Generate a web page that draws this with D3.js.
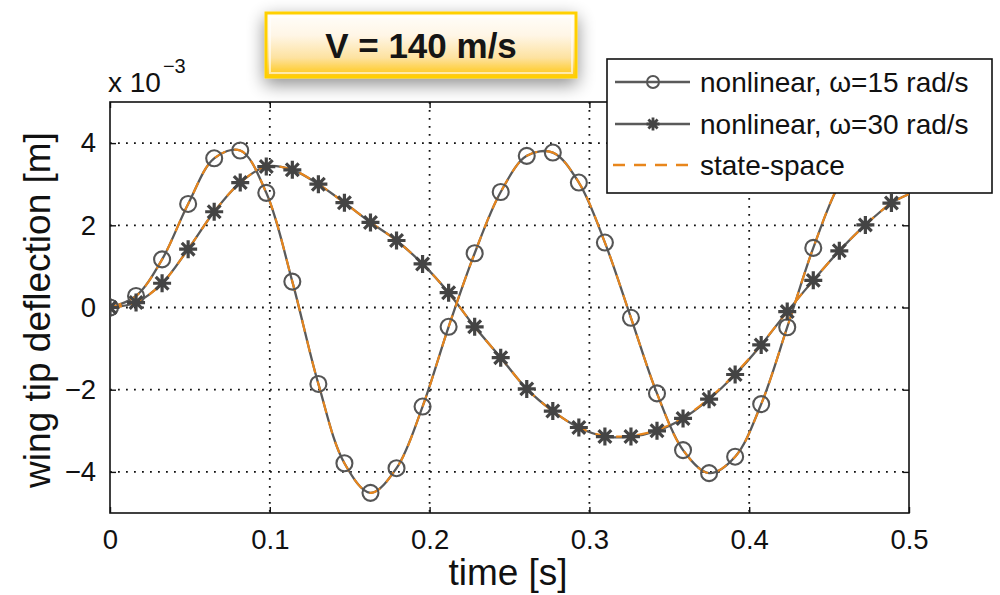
<!DOCTYPE html>
<html>
<head>
<meta charset="utf-8">
<script src="https://cdn.jsdelivr.net/npm/d3@7"></script>
<style>
  html, body { margin: 0; padding: 0; background: #fff; }
  svg { display: block; font-family: "Liberation Sans", Arial, Helvetica, sans-serif; }
</style>
</head>
<body>
<svg id="chart" width="1000" height="595"></svg>
<script>
// Sample times [s] shared by all series (last entry is the end of the run, no marker)
const timeS = [0, 0.0163, 0.0326, 0.0489, 0.0652, 0.0815, 0.0978, 0.1141, 0.1304, 0.1467,
  0.1630, 0.1793, 0.1956, 0.2119, 0.2282, 0.2445, 0.2608, 0.2771, 0.2934, 0.3097,
  0.3260, 0.3423, 0.3586, 0.3749, 0.3912, 0.4075, 0.4238, 0.4401, 0.4564, 0.4727,
  0.4890, 0.5000];

// Wing tip deflection, in units of 1e-3 m
const nonlinear15 = [0, 0.28, 1.17, 2.52, 3.63, 3.82, 2.79, 0.63, -1.86, -3.79,
  -4.51, -3.91, -2.41, -0.47, 1.32, 2.81, 3.69, 3.77, 3.04, 1.58,
  -0.25, -2.09, -3.47, -4.03, -3.63, -2.35, -0.48, 1.45, 3.00, 3.85,
  3.70, 3.20];
const nonlinear30 = [0, 0.12, 0.59, 1.42, 2.33, 3.04, 3.43, 3.35, 3.00, 2.55,
  2.07, 1.63, 1.06, 0.36, -0.47, -1.22, -1.98, -2.52, -2.92, -3.14,
  -3.14, -3.00, -2.70, -2.23, -1.63, -0.91, -0.10, 0.66, 1.38, 2.01,
  2.54, 2.76];
const stateSpace15 = [0, 0.28, 1.17, 2.52, 3.63, 3.82, 2.79, 0.63, -1.86, -3.79,
  -4.51, -3.91, -2.41, -0.47, 1.32, 2.81, 3.69, 3.77, 3.04, 1.58,
  -0.25, -2.09, -3.47, -4.03, -3.63, -2.35, -0.48, 1.45, 3.00, 3.85,
  3.70, 3.20];
const stateSpace30 = [0, 0.12, 0.59, 1.42, 2.33, 3.04, 3.43, 3.35, 3.00, 2.55,
  2.07, 1.63, 1.06, 0.36, -0.47, -1.22, -1.98, -2.52, -2.92, -3.12,
  -3.12, -2.98, -2.68, -2.21, -1.61, -0.90, -0.10, 0.66, 1.38, 2.01,
  2.54, 2.76];

const xTicks = [0, 0.1, 0.2, 0.3, 0.4, 0.5];
const xTickLabels = ["0", "0.1", "0.2", "0.3", "0.4", "0.5"];
const yTicks = [-4, -2, 0, 2, 4];
const yTickLabels = ["\u22124", "\u22122", "0", "2", "4"];
const legendLabels = ["nonlinear, \u03c9=15 rad/s", "nonlinear, \u03c9=30 rad/s", "state-space"];
const titleText = "V = 140 m/s";

const svg = d3.select("#chart");
const plot = { left: 110, right: 909, top: 102, bottom: 513 };

const x = d3.scaleLinear().domain([0, 0.5]).range([plot.left, plot.right]);
const y = d3.scaleLinear().domain([-5, 5]).range([plot.bottom, plot.top]);

const lineGray = "#5a5a5a";
const markGray = "#555";
const starGray = "#444";
const orange = "#e8861c";
const dash = "12,9";

const defs = svg.append("defs");
defs.append("clipPath").attr("id", "plotClip")
  .append("rect")
  .attr("x", plot.left).attr("y", plot.top)
  .attr("width", plot.right - plot.left).attr("height", plot.bottom - plot.top);

// Dotted grid
const grid = svg.append("g").attr("stroke", "#111").attr("stroke-width", 1.8)
  .attr("stroke-dasharray", "1.8,6.2");
grid.selectAll("line.gx").data(xTicks.filter(d => d > 0 && d < 0.5)).join("line")
  .attr("x1", d => x(d)).attr("x2", d => x(d))
  .attr("y1", plot.top).attr("y2", plot.bottom);
grid.selectAll("line.gy").data(yTicks).join("line")
  .attr("x1", plot.left).attr("x2", plot.right)
  .attr("y1", d => y(d)).attr("y2", d => y(d));

// Axes with inward ticks on all four sides
const tickLen = 6;
const axisBottom = d3.axisBottom(x).tickValues(xTicks).tickSize(tickLen).tickFormat((d, i) => xTickLabels[i]).tickPadding(10);
const gxB = svg.append("g").attr("transform", `translate(0,${plot.bottom})`).call(axisBottom);
gxB.selectAll(".tick line").attr("y2", -tickLen);
const gxT = svg.append("g").attr("transform", `translate(0,${plot.top})`)
  .call(d3.axisTop(x).tickValues(xTicks).tickSize(tickLen).tickFormat(""));
gxT.selectAll(".tick line").attr("y2", tickLen);

const axisLeft = d3.axisLeft(y).tickValues(yTicks).tickSize(tickLen).tickFormat((d, i) => yTickLabels[i]).tickPadding(8);
const gyL = svg.append("g").attr("transform", `translate(${plot.left},0)`).call(axisLeft);
gyL.selectAll(".tick line").attr("x2", tickLen);
const gyR = svg.append("g").attr("transform", `translate(${plot.right},0)`)
  .call(d3.axisRight(y).tickValues(yTicks).tickSize(tickLen).tickFormat(""));
gyR.selectAll(".tick line").attr("x2", -tickLen);

[gxB, gxT, gyL, gyR].forEach(g => {
  g.select(".domain").remove();
  g.selectAll(".tick line").attr("stroke", "#111").attr("stroke-width", 1.4);
  g.selectAll(".tick text").attr("fill", "#111").attr("font-size", 27.5)
    .attr("font-family", '"Liberation Sans", Arial, sans-serif');
});
gxB.selectAll(".tick text").attr("dy", "0.71em");

// Box
svg.append("rect")
  .attr("x", plot.left).attr("y", plot.top)
  .attr("width", plot.right - plot.left).attr("height", plot.bottom - plot.top)
  .attr("fill", "none").attr("stroke", "#111").attr("stroke-width", 1.6);

// Curves
const series = timeS.map((t, i) => ({ t, a: nonlinear15[i], b: nonlinear30[i], c: stateSpace15[i], d: stateSpace30[i] }));
const curveG = svg.append("g").attr("clip-path", "url(#plotClip)");
const lineOf = key => d3.line().x(d => x(d.t)).y(d => y(d[key])).curve(d3.curveCatmullRom.alpha(0.5));

curveG.append("path").datum(series).attr("d", lineOf("a"))
  .attr("fill", "none").attr("stroke", lineGray).attr("stroke-width", 2.3);
curveG.append("path").datum(series).attr("d", lineOf("b"))
  .attr("fill", "none").attr("stroke", lineGray).attr("stroke-width", 2.3);
curveG.append("path").datum(series).attr("d", lineOf("c"))
  .attr("fill", "none").attr("stroke", orange).attr("stroke-width", 2.1).attr("stroke-dasharray", dash);
curveG.append("path").datum(series).attr("d", lineOf("d"))
  .attr("fill", "none").attr("stroke", orange).attr("stroke-width", 2.1).attr("stroke-dasharray", dash);

// Markers (every sample but the final end point)
const marked = series.slice(0, series.length - 1);
curveG.selectAll("circle.m15").data(marked).join("circle")
  .attr("cx", d => x(d.t)).attr("cy", d => y(d.a)).attr("r", 8)
  .attr("fill", "none").attr("stroke", markGray).attr("stroke-width", 2.1);

function starPath(cx, cy, r) {
  const k = r * Math.SQRT1_2;
  return `M${cx - r},${cy}L${cx + r},${cy}M${cx},${cy - r}L${cx},${cy + r}` +
    `M${cx - k},${cy - k}L${cx + k},${cy + k}M${cx - k},${cy + k}L${cx + k},${cy - k}`;
}
curveG.selectAll("path.m30").data(marked).join("path")
  .attr("d", d => starPath(x(d.t), y(d.b), 9))
  .attr("fill", "none").attr("stroke", starGray).attr("stroke-width", 3.2);

// Exponent label
const expo = svg.append("text").attr("x", 108).attr("y", 92)
  .attr("font-size", 28).attr("fill", "#111");
expo.append("tspan").text("x 10");
expo.append("tspan").attr("font-size", 20).attr("dy", -19).attr("dx", 2).text("\u22123");

// Axis titles
svg.append("text").attr("x", 508).attr("y", 585).attr("text-anchor", "middle")
  .attr("font-size", 37).attr("fill", "#111").text("time [s]");
svg.append("text").attr("transform", "translate(50,310) rotate(-90)").attr("text-anchor", "middle")
  .attr("font-size", 37).attr("fill", "#111").text("wing tip deflection [m]");

// Legend
const lg = svg.append("g");
lg.append("rect").attr("x", 607).attr("y", 59).attr("width", 385).attr("height", 134)
  .attr("fill", "#fff").attr("stroke", "#111").attr("stroke-width", 1.6);
const rowsY = [82, 124, 165];
legendLabels.forEach((lab, i) => {
  const yy = rowsY[i];
  const ln = lg.append("line").attr("x1", 615).attr("x2", 690).attr("y1", yy).attr("y2", yy);
  if (i < 2) ln.attr("stroke", lineGray).attr("stroke-width", 2.3);
  else ln.attr("x1", 613).attr("stroke", orange).attr("stroke-width", 2.4).attr("stroke-dasharray", dash);
  if (i === 0) lg.append("circle").attr("cx", 653).attr("cy", yy).attr("r", 6)
    .attr("fill", "none").attr("stroke", markGray).attr("stroke-width", 2);
  if (i === 1) lg.append("path").attr("d", starPath(653, yy, 6.5))
    .attr("fill", "none").attr("stroke", starGray).attr("stroke-width", 2.8);
  lg.append("text").attr("x", 700).attr("y", yy).attr("dy", "0.35em")
    .attr("font-size", 28).attr("fill", "#111").text(lab);
});

// Title badge
const grad = defs.append("linearGradient").attr("id", "badgeFill")
  .attr("x1", 0).attr("y1", 0).attr("x2", 0).attr("y2", 1);
grad.append("stop").attr("offset", "0%").attr("stop-color", "#fffefb");
grad.append("stop").attr("offset", "35%").attr("stop-color", "#fff6e6");
grad.append("stop").attr("offset", "70%").attr("stop-color", "#fde2a0");
grad.append("stop").attr("offset", "100%").attr("stop-color", "#ffc60a");
const shadow = defs.append("filter").attr("id", "badgeShadow")
  .attr("x", "-20%").attr("y", "-50%").attr("width", "140%").attr("height", "220%");
shadow.append("feGaussianBlur").attr("in", "SourceAlpha").attr("stdDeviation", 9).attr("result", "blur");
shadow.append("feOffset").attr("in", "blur").attr("dy", 6).attr("result", "off");
shadow.append("feComponentTransfer").attr("in", "off").attr("result", "soft")
  .append("feFuncA").attr("type", "linear").attr("slope", 0.45);
const merge = shadow.append("feMerge");
merge.append("feMergeNode").attr("in", "soft");
merge.append("feMergeNode").attr("in", "SourceGraphic");

svg.append("rect").attr("x", 266).attr("y", 13).attr("width", 310).attr("height", 64)
  .attr("fill", "url(#badgeFill)").attr("stroke", "#ffd000").attr("stroke-width", 3)
  .attr("filter", "url(#badgeShadow)");
svg.append("rect").attr("x", 270).attr("y", 17).attr("width", 302).attr("height", 56)
  .attr("fill", "none").attr("stroke", "#fff").attr("stroke-opacity", 0.6).attr("stroke-width", 2);
svg.append("text").attr("x", 421).attr("y", 58).attr("text-anchor", "middle")
  .attr("font-size", 35).attr("font-weight", "bold").attr("fill", "#151515").text(titleText);
</script>
</body>
</html>
